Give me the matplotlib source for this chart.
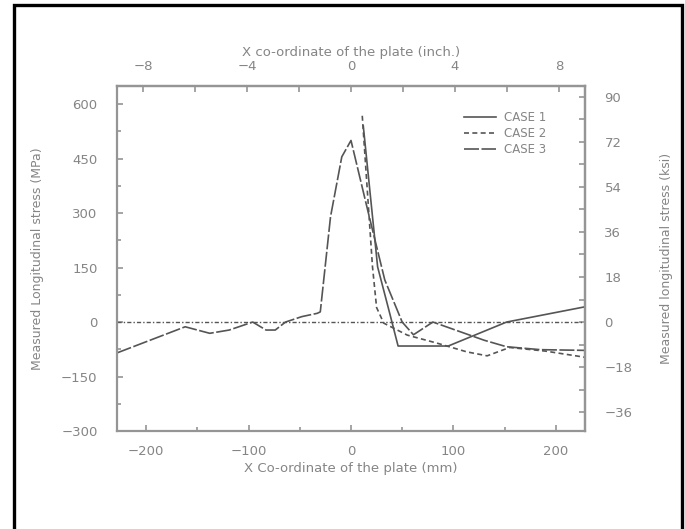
import matplotlib
matplotlib.use("Agg")
import matplotlib.pyplot as plt
from matplotlib.patches import Rectangle
from matplotlib.ticker import MultipleLocator, FixedLocator

# ---- data (x in mm, stress in MPa) ----
case1_x = [12, 26, 37, 46, 95, 152, 228.6]
case1_y = [540, 152, 33, -66, -66, 0, 42]

case2_x = [11, 21, 25, 32, 55, 84, 113, 133, 155, 190, 228.6]
case2_y = [568, 152, 40, -3, -36, -58, -82, -93, -70, -80, -97]

case3_x = [-228.6, -162, -138, -119, -96, -83, -74, -64, -48, -33, -30, -20, -9, 0,
           17, 33, 50, 61, 80, 116, 130, 152, 185, 228.6]
case3_y = [-85, -13, -31, -22, 0, -22, -22, 0, 15, 24, 28, 290, 455, 500,
           300, 116, 0, -35, 0, -36, -50, -68, -76, -78]

zero_x = [-228.6, 228.6]
zero_y = [0, 0]

legend_labels = ["CASE 1", "CASE 2", "CASE 3"]
xlabel_mm = "X Co-ordinate of the plate (mm)"
xlabel_in = "X co-ordinate of the plate (inch.)"
ylabel_mpa = "Measured Longitudinal stress (MPa)"
ylabel_ksi = "Measured longitudinal stress (ksi)"

MPA_PER_KSI = 6.894757
MM_PER_IN = 25.4

TXT = "#858585"
SPN = "#959595"
LN = "#555555"

plt.rcParams['font.family'] = ['DejaVu Sans']

fig = plt.figure(figsize=(6.85, 5.29), dpi=100)
ax = fig.add_axes([117/685, (529-431)/529, 468/685, 345/529])

ax.plot(case1_x, case1_y, color=LN, lw=1.2, ls='-', label=legend_labels[0])
ax.plot(case2_x, case2_y, color=LN, lw=1.2, ls=(0, (3, 2)), label=legend_labels[1])
ax.plot(case3_x, case3_y, color=LN, lw=1.2, ls=(0, (9, 1.5)), label=legend_labels[2])
ax.plot(zero_x, zero_y, color=LN, lw=1.0, ls=(0, (3, 1.5, 1, 1.5)))

ax.set_xlim(-228.6, 228.6)
ax.set_ylim(-300, 650)

ax.xaxis.set_major_locator(MultipleLocator(100))
ax.xaxis.set_minor_locator(MultipleLocator(50))
ax.yaxis.set_major_locator(FixedLocator([-300, -150, 0, 150, 300, 450, 600]))
ax.yaxis.set_minor_locator(MultipleLocator(75))

for s in ax.spines.values():
    s.set_color(SPN)
    s.set_linewidth(1.6)

ax.tick_params(which='both', direction='in', colors=SPN, labelcolor=TXT,
               labelsize=9.5, length=4, width=1.2)
ax.tick_params(which='minor', length=3)
ax.tick_params(axis='x', pad=10)
ax.tick_params(axis='y', pad=14)

ax.set_xlabel(xlabel_mm, color=TXT, fontsize=9.5, labelpad=3)
ax.set_ylabel(ylabel_mpa, color=TXT, fontsize=9, labelpad=12)

secx = ax.secondary_xaxis('top', functions=(lambda v: v / MM_PER_IN, lambda v: v * MM_PER_IN))
secx.xaxis.set_major_locator(MultipleLocator(4))
secx.xaxis.set_minor_locator(MultipleLocator(2))
secx.tick_params(which='both', direction='in', colors=SPN, labelcolor=TXT,
                 labelsize=9.5, length=4, width=1.2, pad=9)
secx.set_xlabel(xlabel_in, color=TXT, fontsize=9.5, labelpad=3)
secx.spines['top'].set_color(SPN)
secx.spines['top'].set_linewidth(1.6)

secy = ax.secondary_yaxis('right', functions=(lambda v: v / MPA_PER_KSI, lambda v: v * MPA_PER_KSI))
secy.yaxis.set_major_locator(MultipleLocator(18))
secy.yaxis.set_minor_locator(MultipleLocator(9))
secy.tick_params(which='both', direction='in', colors=SPN, labelcolor=TXT,
                 labelsize=9.5, length=4, width=1.2, pad=14)
secy.set_ylabel(ylabel_ksi, color=TXT, fontsize=9, labelpad=20)
secy.spines['right'].set_color(SPN)
secy.spines['right'].set_linewidth(1.6)

leg = ax.legend(loc='upper right', bbox_to_anchor=(0.928, 0.94), frameon=False,
                fontsize=8.5, handlelength=2.7, handletextpad=0.7,
                labelspacing=0.25, borderaxespad=0)
for t in leg.get_texts():
    t.set_color(TXT)

fig.patches.append(Rectangle((13.5/685, -0.02), (681.5-13.5)/685, (524.5/529)+0.02,
                             transform=fig.transFigure, fill=False,
                             edgecolor='black', linewidth=2.4))

fig.savefig("out.png", dpi=100)
